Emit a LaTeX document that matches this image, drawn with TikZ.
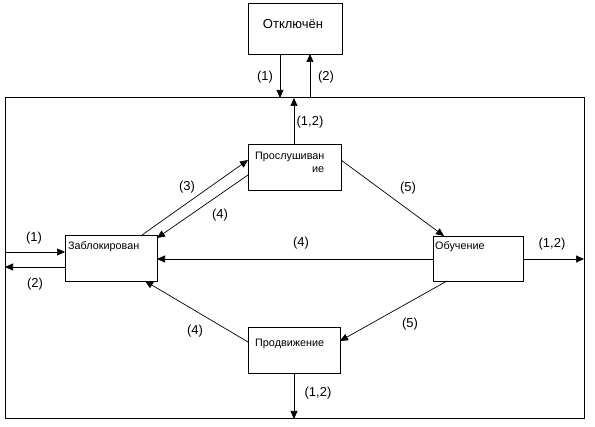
\documentclass[tikz,border=0pt]{standalone}
\usepackage{fontspec}
\setmainfont{Liberation Sans}
\usetikzlibrary{arrows.meta,calc}
\begin{document}
\begin{tikzpicture}[x=1pt,y=-1pt,
  box/.style={draw=black,line width=0.8pt,inner sep=0pt,outer sep=0pt,anchor=north west},
  txt/.style={inner sep=0pt,font=\fontsize{10.8}{12}\selectfont,anchor=base west},
  lbl/.style={inner sep=0pt,font=\fontsize{13}{15}\selectfont},
  arr/.style={line width=0.7pt,-{Triangle[length=8pt,width=7pt]}}]
\useasboundingbox (0,0) rectangle (595,427);
% frame
\node[box,line width=1pt,minimum width=579pt,minimum height=321pt] (frame) at (5,98) {};
% boxes
\node[box,minimum width=94pt,minimum height=51pt] (otk) at (248,3) {};
\node[box,minimum width=93pt,minimum height=46pt] (prosl) at (248,144) {};
\node[box,minimum width=92pt,minimum height=46pt] (blk) at (65,235) {};
\node[box,minimum width=90pt,minimum height=45pt] (obu) at (433,236) {};
\node[box,minimum width=92pt,minimum height=46pt] (prodv) at (248,327) {};
% texts
\node[inner sep=0pt,font=\fontsize{13}{15}\selectfont,anchor=base] (totk) at ($(otk.north west)+(45,26)$) {Отключён};
\node[txt] (tprosl) at ($(prosl.north west)+(7,16)$) {Прослушиван};
\node[txt] (tprosl2) at ($(prosl.north west)+(64,29)$) {ие};
\node[txt] (tblk) at ($(blk.north west)+(3,15)$) {Заблокирован};
\node[txt] (tobu) at ($(obu.north west)+(2,14)$) {Обучение};
\node[txt] (tprodv) at ($(prodv.north west)+(7,20)$) {Продвижение};
% connectors
\draw[arr] ($(otk.south west)+(32,0)$) coordinate (a1) -- (a1 |- frame.north);
\coordinate (a2) at ($(otk.south west)+(62,0)$);
\draw[arr] (a2 |- frame.north) -- (a2);
\draw[arr] ($(prosl.north west)+(46,0)$) coordinate (p1) -- (p1 |- frame.north);
\draw[arr] ($(prodv.south west)+(46,0)$) coordinate (d1) -- (d1 |- frame.south);
\draw[arr] (frame.west |- {$(blk.north west)+(0,17)$}) -- ($(blk.north west)+(0,17)$);
\draw[arr] ($(blk.north west)+(0,32)$) -- (frame.west |- {$(blk.north west)+(0,32)$});
\draw[arr] ($(obu.north east)+(0,23)$) -- (frame.east |- {$(obu.north east)+(0,23)$});
\draw[arr] ($(obu.north west)+(0,23)$) -- (blk.east |- {$(obu.north west)+(0,23)$});
\draw[arr] ($(blk.north west)+(77,0)$) -- ($(prosl.north west)+(0,16)$);
\draw[arr] ($(prosl.north west)+(0,31)$) -- ($(blk.north east)+(0,3)$);
\draw[arr] ($(prosl.north east)+(0,16)$) -- ($(obu.north west)+(11,0)$);
\draw[arr] ($(obu.south west)+(14,0)$) -- ($(prodv.north east)+(0,14)$);
\draw[arr] ($(prodv.north west)+(0,15)$) -- ($(blk.south west)+(80,0)$);
% labels
\node[lbl] (l1) at (265,77) {(1)};
\node[lbl] (l2) at (326,77) {(2)};
\node[lbl] (l12a) at (310,122) {(1,2)};
\node[lbl] (l3) at (187,187) {(3)};
\node[lbl] (l4a) at (220,215) {(4)};
\node[lbl] (l4b) at (301,243) {(4)};
\node[lbl] (l1l) at (34,238) {(1)};
\node[lbl] (l2l) at (35,284) {(2)};
\node[lbl] (l12r) at (552,244) {(1,2)};
\node[lbl] (l5a) at (408,188) {(5)};
\node[lbl] (l5b) at (410,324) {(5)};
\node[lbl] (l4c) at (195,331) {(4)};
\node[lbl] (l12b) at (318,393) {(1,2)};
\end{tikzpicture}
\end{document}
